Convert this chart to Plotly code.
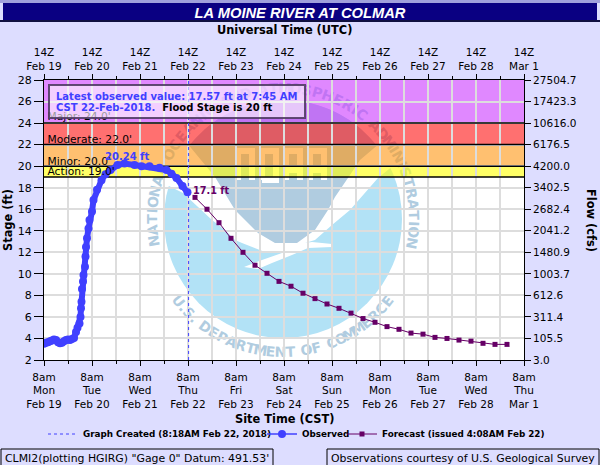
import math
import plotly.graph_objects as go

BG = "#DDDDFF"
BLUE = "#4040FF"
PURPLE = "#660066"
GRID = "#DDDDDD"
LOGO_DARK = "#B0CCE0"
LOGO_LIGHT = "#B2E2F6"
FONT = "DejaVu Sans"

# stage axis and the flow values printed next to it
stage_ticks = [2, 4, 6, 8, 10, 12, 14, 16, 18, 20, 22, 24, 26, 28]
flow_labels = ["3.0", "105.5", "311.4", "612.6", "1003.7", "1480.9", "2041.2", "2682.4",
               "3402.5", "4200.0", "6176.5", "10616.0", "17423.3", "27504.7"]

day_ticks = ["2018-02-19 08:00", "2018-02-20 08:00", "2018-02-21 08:00", "2018-02-22 08:00",
             "2018-02-23 08:00", "2018-02-24 08:00", "2018-02-25 08:00", "2018-02-26 08:00",
             "2018-02-27 08:00", "2018-02-28 08:00", "2018-03-01 08:00"]
weekdays = ["Mon", "Tue", "Wed", "Thu", "Fri", "Sat", "Sun", "Mon", "Tue", "Wed", "Thu"]
day_names = ["Feb 19", "Feb 20", "Feb 21", "Feb 22", "Feb 23", "Feb 24", "Feb 25", "Feb 26",
             "Feb 27", "Feb 28", "Mar 1"]

# flood categories
band_names = ["Action: 19.0'", "Minor: 20.0'", "Moderate: 22.0'", "Major: 24.0'"]
band_levels = [19, 20, 22, 24]
band_label_stage = [19.46, 20.39, 22.43, 24.56]

obs_times = ["2018-02-19 08:00", "2018-02-19 09:00", "2018-02-19 10:00", "2018-02-19 11:00",
             "2018-02-19 12:00", "2018-02-19 13:00", "2018-02-19 14:00", "2018-02-19 15:00",
             "2018-02-19 16:00", "2018-02-19 17:00", "2018-02-19 18:00", "2018-02-19 19:00",
             "2018-02-19 20:00", "2018-02-19 21:00", "2018-02-19 22:00", "2018-02-19 23:00",
             "2018-02-20 00:00", "2018-02-20 00:45", "2018-02-20 01:45", "2018-02-20 02:15",
             "2018-02-20 02:30", "2018-02-20 02:45", "2018-02-20 03:00", "2018-02-20 03:30",
             "2018-02-20 03:45", "2018-02-20 04:30", "2018-02-20 04:45", "2018-02-20 05:00",
             "2018-02-20 05:30", "2018-02-20 06:15", "2018-02-20 06:45", "2018-02-20 08:00",
             "2018-02-20 08:45", "2018-02-20 10:30", "2018-02-20 12:45", "2018-02-20 14:45",
             "2018-02-20 17:15", "2018-02-20 20:45", "2018-02-21 00:15", "2018-02-21 05:15",
             "2018-02-21 08:45", "2018-02-21 12:45", "2018-02-21 17:45", "2018-02-21 21:15",
             "2018-02-21 23:45", "2018-02-22 02:15", "2018-02-22 05:15", "2018-02-22 07:45"]
obs_stage = [3.50, 3.60, 3.65, 3.75, 3.80, 3.90, 3.85, 3.65, 3.55, 3.60, 3.75, 3.85,
             3.90, 3.85, 3.95, 4.05, 4.60, 5.00, 5.40, 6.00, 6.80, 7.40, 8.60, 9.30,
             9.90, 10.65, 11.60, 12.50, 13.30, 14.20, 15.00, 15.80, 16.85, 17.80, 18.70, 19.25,
             19.65, 20.10, 20.24, 20.10, 20.00, 20.00, 19.85, 19.65, 19.30, 18.90, 18.15, 17.57]

fcst_times = ["2018-02-22 11:30", "2018-02-22 17:30", "2018-02-22 23:30", "2018-02-23 05:30",
              "2018-02-23 11:30", "2018-02-23 17:30", "2018-02-23 23:30", "2018-02-24 05:30",
              "2018-02-24 11:30", "2018-02-24 17:30", "2018-02-24 23:30", "2018-02-25 05:30",
              "2018-02-25 11:30", "2018-02-25 17:30", "2018-02-25 23:30", "2018-02-26 05:30",
              "2018-02-26 11:30", "2018-02-26 17:30", "2018-02-26 23:30", "2018-02-27 05:30",
              "2018-02-27 11:30", "2018-02-27 17:30", "2018-02-27 23:30", "2018-02-28 05:30",
              "2018-02-28 11:30", "2018-02-28 17:30", "2018-02-28 23:30"]
fcst_stage = [17.1, 16.0, 14.75, 13.3, 12.0, 10.8, 10.05, 9.3, 8.85, 8.2, 7.7, 7.2, 6.8, 6.35,
              5.85, 5.5, 5.1, 4.85, 4.5, 4.4, 4.1, 4.0, 3.85, 3.75, 3.55, 3.45, 3.45]

graph_created = "2018-02-22 08:18"

# plot area in page pixels
LEFT, RIGHT, TOP, BOTTOM = 44, 524, 80, 360


def px(x):
    return (x - LEFT) / (RIGHT - LEFT)


def py(y):
    return (BOTTOM - y) / (BOTTOM - TOP)


def path_from(points, close=True):
    d = "M" + " L".join(f"{px(x):.5f},{py(y):.5f}" for x, y in points)
    return d + (" Z" if close else "")


def rect(x0, y0, x1, y1, **kw):
    return dict(type="rect", xref="paper", yref="paper", x0=px(x0), x1=px(x1), y0=py(y0), y1=py(y1), **kw)


def ring_letters(text, start, end, radius, cx, cy, top):
    # one small label per letter, turned along the circle of the logo
    out = []
    widths = [0.6 if ch == " " else 0.55 if ch in ".I" else 1.0 for ch in text]
    total = sum(widths)
    done = 0
    for ch, w in zip(text, widths):
        deg = start + (end - start) * (done + w / 2) / total
        done += w
        if ch == " ":
            continue
        a = math.radians(deg)
        x = cx + radius * math.cos(a)
        y = cy - radius * math.sin(a)
        angle = 90 - deg if top else 270 - deg
        out.append(dict(type="rect", xref="paper", yref="paper", layer="below",
                        x0=px(x - 6), x1=px(x + 6), y0=py(y + 6), y1=py(y - 6),
                        line=dict(width=0), fillcolor="rgba(0,0,0,0)",
                        label=dict(text=f"<b>{ch}</b>", textangle=angle, textposition="middle center",
                                   font=dict(family=FONT, size=14, color=LOGO_DARK))))
    return out


def logo_shapes():
    cx, cy, r = 283, 219, 119
    shapes = [dict(type="circle", xref="paper", yref="paper", layer="below",
                   x0=px(cx - r), x1=px(cx + r), y0=py(cy + r), y1=py(cy - r),
                   fillcolor=LOGO_LIGHT, line=dict(width=0))]
    # white swoosh over the disc, with the thin wing tips of the bird
    white = [(160, 187), (167, 185), (183, 193), (212, 220), (225, 230), (235, 240), (242, 243), (265, 252),
             (282, 253), (262, 260), (244, 267), (258, 269), (272, 263), (292, 255), (308, 248), (332, 247),
             (332, 244), (312, 242), (305, 243), (315, 240), (332, 225), (350, 210), (378, 178), (394, 165),
             (405, 130), (165, 130)]
    shapes.append(dict(type="path", xref="paper", yref="paper", layer="below",
                       path=path_from(white), fillcolor="white", line=dict(width=0)))
    # dark upper part: arc of the disc, then the lower edge back to the start
    arc = []
    for i in range(41):
        a = math.radians(142 - i * 2.6)
        arc.append((cx + r * math.cos(a), cy - r * math.sin(a)))
    lower = [(360, 160), (350, 175), (335, 197), (328, 210), (315, 230), (297, 243), (275, 243), (258, 233),
             (235, 210), (215, 177)]
    shapes.append(dict(type="path", xref="paper", yref="paper", layer="below",
                       path=path_from(arc + lower), fillcolor=LOGO_DARK, line=dict(width=0)))
    # NOAA block letters
    t, b, mid = 151, 180, 170
    letters = [
        [(238, b), (238, t), (252, t), (252, b)],
        [(262, b), (262, t), (276, t), (276, b), (262, b)],
        [(286, b), (286, t), (300, t), (300, b)],
        [(286, mid), (300, mid)],
        [(310, b), (310, t), (324, t), (324, b)],
        [(310, mid), (324, mid)],
    ]
    for pts in letters:
        shapes.append(dict(type="path", xref="paper", yref="paper", layer="below",
                           path=path_from(pts, close=False), line=dict(color="white", width=6)))
    shapes += ring_letters("NATIONAL OCEANIC AND ATMOSPHERIC ADMINISTRATION", 192, -13, 132, cx, cy, True)
    shapes += ring_letters("U.S. DEPARTMENT OF COMMERCE", 216, 324, 132, cx, cy, False)
    return shapes


fig = go.Figure()

fig.add_trace(go.Scatter(x=[graph_created, graph_created], y=[2, 28], mode="lines",
                         line=dict(color=BLUE, width=1, dash="3px,3px"),
                         name="Graph Created (8:18AM Feb 22, 2018)", legend="legend"))
fig.add_trace(go.Scatter(x=obs_times, y=obs_stage, mode="lines", line=dict(color=BLUE, width=6),
                         showlegend=False, hoverinfo="skip"))
fig.add_trace(go.Scatter(x=obs_times, y=obs_stage, mode="lines+markers", name="Observed", legend="legend2",
                         line=dict(color=BLUE, width=1.5), marker=dict(color=BLUE, size=8)))
fig.add_trace(go.Scatter(x=fcst_times, y=fcst_stage, mode="lines+markers",
                         name="Forecast (issued 4:08AM Feb 22)", legend="legend3",
                         line=dict(color=PURPLE, width=1),
                         marker=dict(color=PURPLE, size=5, symbol="square")))
# labels of the flood categories, over the line; the message box dims the top one
fig.add_trace(go.Scatter(x=["2018-02-19 09:45"] * 4, y=band_label_stage, text=band_names, mode="text",
                         textposition="middle right", textfont=dict(family=FONT, size=10.7, color="black"),
                         showlegend=False, hoverinfo="skip"))
# keeps the top and right axes alive
fig.add_trace(go.Scatter(x=[day_ticks[0]], y=[2], xaxis="x2", yaxis="y2", mode="lines",
                         showlegend=False, hoverinfo="skip"))

shapes = [
    rect(0, 0, 600, 3, fillcolor="#A0A0DC", line=dict(width=0), layer="below"),
    rect(3, 3, 597, 20, fillcolor="#0A0082", line=dict(width=0), layer="below"),
    rect(0, 20, 600, 22, fillcolor="#101040", line=dict(width=0), layer="below"),
]
shapes += logo_shapes()
# flood bands, see-through so the logo shows under them
band_fill = ["rgba(255,255,0,0.6)", "rgba(255,150,17,0.6)", "rgba(255,17,17,0.6)", "rgba(203,57,255,0.6)"]
band_top = [20, 22, 24, 28]
for low, high, fill in zip(band_levels, band_top, band_fill):
    shapes.append(dict(type="rect", xref="paper", yref="y", x0=0, x1=1, y0=low, y1=high,
                       fillcolor=fill, line=dict(width=0), layer="below"))
for level in band_levels:
    shapes.append(dict(type="line", xref="x", yref="y", x0=day_ticks[0], x1=day_ticks[-1], y0=level, y1=level,
                       line=dict(color="black", width=1.5), layer="between"))
# message box
shapes.append(rect(49, 85, 305, 118, fillcolor="rgba(255,255,255,0.6)", layer="above",
                   line=dict(color="rgba(80,60,100,0.9)", width=2)))
# footer boxes
shapes.append(rect(1, 449, 273, 467, fillcolor=BG, line=dict(color="black", width=1), layer="below"))
shapes.append(rect(327, 449, 599, 467, fillcolor=BG, line=dict(color="black", width=1), layer="below"))


def note(text, x, y, size=10, color="black", bold=False, anchor="left", angle=0):
    return dict(xref="paper", yref="paper", x=px(x), y=py(y), text=f"<b>{text}</b>" if bold else text,
                showarrow=False, xanchor=anchor, yanchor="middle", textangle=angle,
                font=dict(family=FONT, size=size, color=color))


annotations = [
    note("Latest observed value: 17.57 ft at 7:45 AM", 54, 96.5, size=10, color=BLUE, bold=True),
    note(f"<span style='color:{BLUE}'>CST 22-Feb-2018.</span>  Flood Stage is 20 ft", 54, 107.5, size=10, bold=True),
    note("Universal Time (UTC)", 284, 30, size=11.4, bold=True, anchor="center"),
    note("Site Time (CST)", 284, 419, size=11.4, bold=True, anchor="center"),
    note("Stage (ft)", 8, 220, size=11.4, bold=True, anchor="center", angle=-90),
    note("Flow (cfs)", 591, 220, size=11.4, bold=True, anchor="center", angle=90),
    note("CLMI2(plotting HGIRG) \"Gage 0\" Datum: 491.53'", 3, 458, size=10.9),
    note("Observations courtesy of U.S. Geological Survey", 329, 458, size=10.9),
    dict(xref="x", yref="y", x="2018-02-21 00:15", y=obs_stage[38], text="<b>20.24 ft</b>", showarrow=False,
         xshift=2, yshift=7, font=dict(family=FONT, size=10, color=BLUE)),
    dict(xref="x", yref="y", x=fcst_times[0], y=fcst_stage[0], text="<b>17.1 ft</b>", showarrow=False,
         xanchor="left", xshift=-4, yshift=7, font=dict(family=FONT, size=9.7, color=PURPLE)),
]

tick_font = dict(family=FONT, size=10.5, color="black")
minor = dict(dtick=43200000, tick0=day_ticks[0], ticklen=3, tickcolor="black", ticks="outside",
             showgrid=True, gridcolor=GRID, gridwidth=1.5)
legend_font = dict(family=FONT, size=8.8, color="black", weight=700)


def legend_at(x):
    return dict(x=px(x), xanchor="left", y=py(434), yanchor="middle", bgcolor="rgba(0,0,0,0)",
                font=legend_font, itemwidth=30)


fig.update_layout(
    width=600,
    height=465,
    margin=dict(l=LEFT, r=600 - RIGHT, t=TOP, b=465 - BOTTOM, pad=0),
    paper_bgcolor=BG,
    plot_bgcolor="white",
    title=dict(text="<b><i>LA MOINE RIVER AT COLMAR</i></b>", x=0.5, xanchor="center", y=1 - 12.5 / 465,
               yanchor="middle", font=dict(family="Liberation Sans", size=14.7, color="white")),
    xaxis=dict(type="date", range=[day_ticks[0], day_ticks[-1]], tickmode="array", tickvals=day_ticks,
               ticktext=[f"8am<br>{w}<br>{d}" for w, d in zip(weekdays, day_names)],
               tickangle=0, ticks="outside", ticklen=5, tickcolor="black", tickfont=tick_font,
               ticklabelstandoff=2, showgrid=True, gridcolor=GRID, gridwidth=1.5, minor=minor,
               showline=True, linecolor="black", linewidth=1, zeroline=False),
    xaxis2=dict(type="date", range=[day_ticks[0], day_ticks[-1]], overlaying="x", side="top", anchor="y",
                tickmode="array", tickvals=day_ticks, ticktext=[f"14Z<br>{d}" for d in day_names],
                tickangle=0, ticks="outside", ticklen=5, tickcolor="black", tickfont=tick_font, showgrid=False,
                minor=dict(dtick=43200000, tick0=day_ticks[0], ticklen=3, tickcolor="black", ticks="outside"),
                showline=True, linecolor="black", linewidth=1, zeroline=False),
    yaxis=dict(range=[2, 28], tickmode="array", tickvals=stage_ticks, ticks="outside", ticklen=9,
               tickcolor="black", tickfont=dict(family=FONT, size=11, color="black"),
               showgrid=True, gridcolor=GRID, gridwidth=1.5,
               showline=True, linecolor="black", linewidth=1, zeroline=False),
    yaxis2=dict(range=[2, 28], overlaying="y", side="right", anchor="x", tickmode="array", tickvals=stage_ticks,
                ticktext=flow_labels, ticks="outside", ticklen=6, tickcolor="black",
                tickfont=dict(family=FONT, size=10.5, color="black"), showgrid=False,
                showline=True, linecolor="black", linewidth=1, zeroline=False),
    legend=legend_at(43),
    legend2=legend_at(262),
    legend3=legend_at(342),
    shapes=shapes,
    annotations=annotations,
)

# the page body has a default margin that would push the chart off the window
fig.write_html("out.html", post_script="document.body.style.margin='0';", config=dict(displayModeBar=False))
